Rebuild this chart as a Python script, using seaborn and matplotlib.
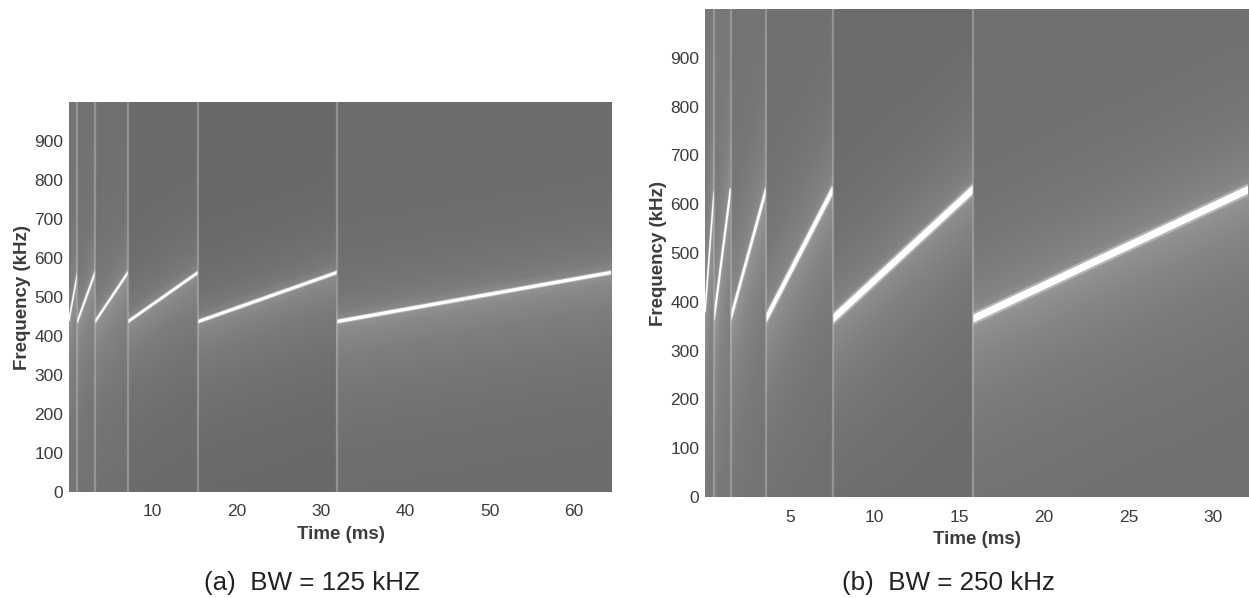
#!/usr/bin/env python3
"""Spectrograms of the chirp symbols for two LoRa-like bandwidths."""

import numpy as np
import pandas as pd
import matplotlib
matplotlib.use("Agg")
import matplotlib.pyplot as plt
from matplotlib.patches import Rectangle
import seaborn as sns

sns.set_style("white")
plt.rcParams["font.family"] = ["Liberation Sans", "DejaVu Sans"]

# Panel (a): BW = 125 kHz
a_edges = [0.16, 1.15, 3.25, 7.15, 15.45, 31.9, 64.4]
a_start = [440, 437, 437, 437, 437, 437]
a_end = [560, 563, 563, 563, 563, 563]
a_bgs = [116, 114, 112, 106, 104, 108]
a_widths = [1.0, 1.3, 1.5, 1.9, 2.2, 2.4]
a_ticks = [10, 20, 30, 40, 50, 60]

# Panel (b): BW = 250 kHz
b_edges = [0.0, 0.53, 1.51, 3.6, 7.54, 15.8, 32.06]
b_start = [380, 365, 365, 365, 365, 365]
b_end = [625, 630, 630, 630, 630, 630]
b_bgs = [120, 120, 116, 112, 108, 112]
b_widths = [1.0, 1.4, 1.8, 2.9, 4.6, 5.2]
b_ticks = [5, 10, 15, 20, 25, 30]

freq_ticks = [0, 100, 200, 300, 400, 500, 600, 700, 800, 900]

# Brightness added around a chirp, by distance from it in kHz
glow_offsets = [-500, -300, -180, -90, -30, -6, 6, 30, 80, 150, 260, 400]
a_glow = [0, 4, 10, 18, 28, 38, 30, 16, 9, 4, 1, 0]
b_glow = [0, 5, 11, 20, 30, 40, 34, 20, 13, 7, 2, 0]

TEXT = "#3c3c3c"
W, H = 1249, 598


def draw_panel(box, edges, start, end, bgs, widths, glow, ticks, x_step):
    left, top, width, height = box
    ax = fig.add_axes([left / W, 1 - (top + height) / H, width / W, height / H])

    freqs = np.arange(0, 1000, 2.5) + 1.25
    times = np.arange(edges[0], edges[-1], x_step) + x_step / 2
    grid = np.zeros((len(freqs), len(times)))
    for i, t in enumerate(times):
        seg = min(np.searchsorted(edges, t, side="right") - 1, len(bgs) - 1)
        frac = (t - edges[seg]) / (edges[seg + 1] - edges[seg])
        chirp = start[seg] + frac * (end[seg] - start[seg])
        grid[:, i] = bgs[seg] + np.interp(freqs - chirp, glow_offsets, glow)

    sns.heatmap(grid, ax=ax, cmap="gray", vmin=0, vmax=255, cbar=False,
                xticklabels=False, yticklabels=False)
    ax.invert_yaxis()

    # heatmap axes count cells, so go from ms / kHz to cell positions
    to_x = lambda t: (np.asarray(t, dtype=float) - edges[0]) / x_step
    to_y = lambda f: np.asarray(f, dtype=float) / 2.5

    for seg in range(len(bgs)):
        x0, x1 = to_x([edges[seg], edges[seg + 1]])
        line = pd.DataFrame({"x": [x0, x1], "y": to_y([start[seg], end[seg]])})
        clip = Rectangle((x0, 0), x1 - x0, len(freqs), transform=ax.transData)
        sns.lineplot(data=line, x="x", y="y", ax=ax, color="white", alpha=0.3,
                     linewidth=widths[seg] * 1.6, solid_capstyle="projecting", legend=False)
        ax.lines[-1].set_clip_path(clip)
        sns.lineplot(data=line, x="x", y="y", ax=ax, color="white",
                     linewidth=widths[seg], solid_capstyle="projecting", legend=False)
        ax.lines[-1].set_clip_path(clip)

    for edge in edges[1:-1]:
        ax.axvline(to_x(edge), color="#c0c0c0", linewidth=1.6, alpha=0.45)

    ax.set_xlim(0, len(times))
    ax.set_ylim(0, len(freqs))
    ax.set_xticks(to_x(ticks))
    ax.set_xticklabels(ticks, rotation=0, fontsize=12.5, color=TEXT)
    ax.set_yticks(to_y(freq_ticks))
    ax.set_yticklabels(freq_ticks, rotation=0, fontsize=12.5, color=TEXT)
    ax.tick_params(axis="x", length=0, pad=9)
    ax.tick_params(axis="y", length=0, pad=4)
    ax.set_xlabel("Time (ms)", fontsize=13.5, color=TEXT, fontweight="bold", labelpad=5, visible=True)
    ax.set_ylabel("Frequency (kHz)", fontsize=13.5, color=TEXT, fontweight="bold", labelpad=2.5, visible=True)
    return ax


fig = plt.figure(figsize=(W / 100, H / 100), dpi=100, facecolor="white")

draw_panel((69, 102, 543, 390), a_edges, a_start, a_end, a_bgs, a_widths, a_glow, a_ticks, 0.12)
draw_panel((705, 9, 544, 488), b_edges, b_start, b_end, b_bgs, b_widths, b_glow, b_ticks, 0.06)

fig.text(312 / W, 1 - 583 / H, "(a)  BW = 125 kHZ", ha="center", va="center", fontsize=18.7, color="#222222")
fig.text(948 / W, 1 - 583 / H, "(b)  BW = 250 kHz", ha="center", va="center", fontsize=18.7, color="#222222")

fig.savefig("out.png", dpi=100, facecolor="white")
plt.close(fig)
